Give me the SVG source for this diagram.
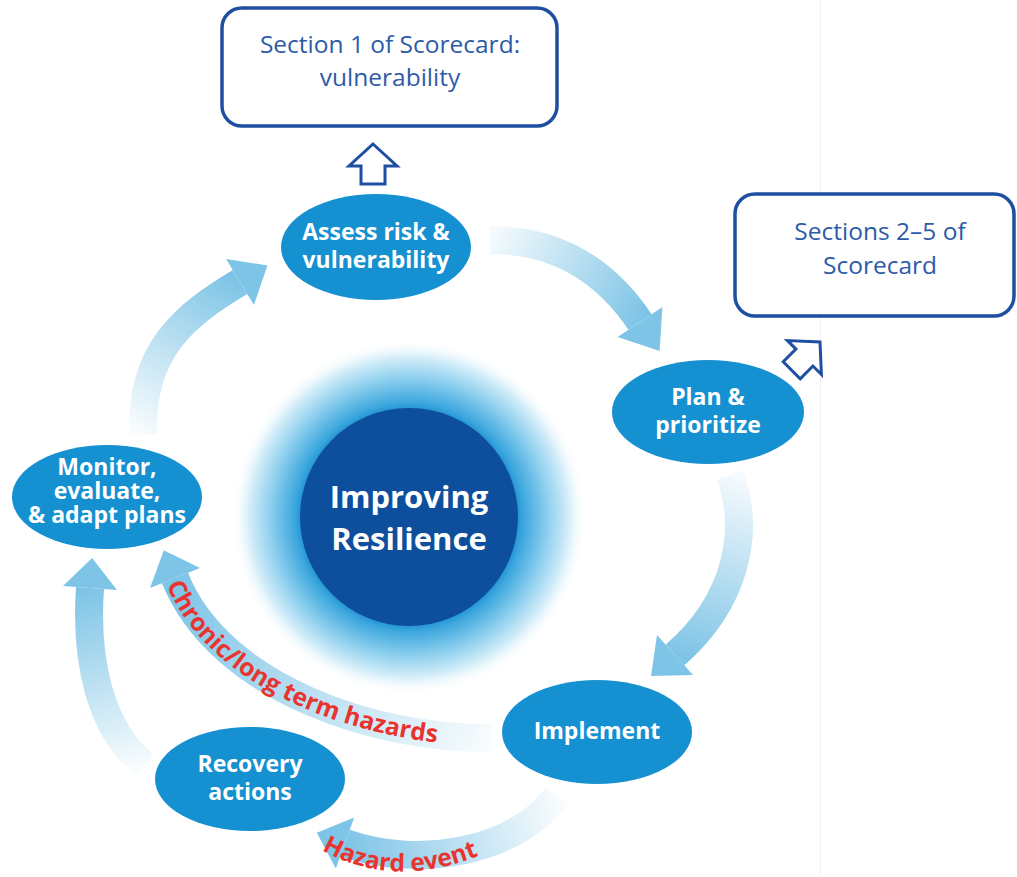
<svg xmlns="http://www.w3.org/2000/svg" width="1017" height="877" viewBox="0 0 1017 877">
<style>
.node{fill:#1590d0}
.nt{font-family:"Open Sans","Liberation Sans",sans-serif;font-weight:700;font-size:23px;fill:#ffffff;text-anchor:middle}
.ct{font-family:"Open Sans","Liberation Sans",sans-serif;font-weight:700;font-size:31px;fill:#ffffff;text-anchor:middle}
.box{fill:#ffffff;stroke:#1f4fa0;stroke-width:3.5}
.bt{font-family:"Open Sans","Liberation Sans",sans-serif;font-size:24.5px;fill:#2d5ba8;text-anchor:middle}
.body{fill:none;stroke-width:28}
.head{fill:#7ec4e6}
.open{fill:#ffffff;stroke:#1f4fa0;stroke-width:3}
.hz{font-family:"Open Sans","Liberation Sans",sans-serif;font-weight:700;font-size:24.5px;fill:#e8332f}
</style>
<defs>
<radialGradient id="halo" cx="409" cy="517" r="178" gradientUnits="userSpaceOnUse">
<stop offset="0.6" stop-color="#1f8fd0"/>
<stop offset="0.64" stop-color="#3aa6dd"/>
<stop offset="0.78" stop-color="#8dcfee"/>
<stop offset="0.9" stop-color="#d5eef9"/>
<stop offset="1" stop-color="#ffffff" stop-opacity="0"/>
</radialGradient>
<linearGradient id="g1" gradientUnits="userSpaceOnUse" x1="490" y1="240" x2="640" y2="322"><stop offset="0" stop-color="#7ec4e6" stop-opacity="0.08"/><stop offset="1" stop-color="#7ec4e6"/></linearGradient>
<linearGradient id="g2" gradientUnits="userSpaceOnUse" x1="730" y1="475" x2="675" y2="655"><stop offset="0" stop-color="#7ec4e6" stop-opacity="0.08"/><stop offset="1" stop-color="#7ec4e6"/></linearGradient>
<linearGradient id="g3" gradientUnits="userSpaceOnUse" x1="492" y1="738" x2="175" y2="578"><stop offset="0" stop-color="#7ec4e6" stop-opacity="0.05"/><stop offset="1" stop-color="#7ec4e6"/></linearGradient>
<linearGradient id="g4" gradientUnits="userSpaceOnUse" x1="557" y1="795" x2="345" y2="843"><stop offset="0" stop-color="#7ec4e6" stop-opacity="0.05"/><stop offset="1" stop-color="#7ec4e6"/></linearGradient>
<linearGradient id="g5" gradientUnits="userSpaceOnUse" x1="145" y1="765" x2="90" y2="588"><stop offset="0" stop-color="#7ec4e6" stop-opacity="0.05"/><stop offset="1" stop-color="#7ec4e6"/></linearGradient>
<linearGradient id="g6" gradientUnits="userSpaceOnUse" x1="143" y1="435" x2="240" y2="282"><stop offset="0" stop-color="#7ec4e6" stop-opacity="0.05"/><stop offset="1" stop-color="#7ec4e6"/></linearGradient>
<path id="openArrow" d="M0 0 L24 22 L12 22 L12 40 L-12 40 L-12 22 L-24 22 Z"/>
<path id="tp3" d="M166 583 C211 697 378 748 500 746"/>
<path id="tp4" d="M318 848 Q400 896 500 846"/>
</defs>

<line x1="820.5" y1="0" x2="820.5" y2="877" stroke="#f3f3f3" stroke-width="1"/>

<g id="box-section1">
<rect class="box" x="222" y="8" width="335" height="118" rx="20"/>
<text class="bt" x="390" y="53"><tspan x="390" y="53">Section 1 of Scorecard:</tspan><tspan x="390" y="86">vulnerability</tspan></text>
</g>

<g id="box-sections2-5">
<rect class="box" x="735" y="194" width="279" height="122" rx="20"/>
<text class="bt" x="880" y="240"><tspan x="880" y="240">Sections 2–5 of</tspan><tspan x="880" y="274">Scorecard</tspan></text>
</g>

<g id="node-center">
<circle cx="409" cy="517" r="178" fill="url(#halo)"/>
<circle cx="409" cy="517" r="109" fill="#0d4f9c"/>
<text class="ct" x="409" y="508"><tspan x="409" y="508">Improving</tspan><tspan x="409" y="550">Resilience</tspan></text>
</g>

<g id="connectors">
<path class="body" stroke="url(#g1)" d="M490 240 Q585 240 640 322"/>
<polygon class="head" points="659.6,351 662.4,306.9 617.6,337.1"/>
<path class="body" stroke="url(#g2)" d="M730 475 C750 530 738 600 675 655"/>
<polygon class="head" points="651,676 693,675 657,635"/>
<path class="body" stroke="url(#g3)" d="M492 738 C380 740 220 690 175 578"/>
<polygon class="head" points="163.8,550.2 200,568 150,588"/>
<path class="body" stroke="url(#g4)" d="M557 795 C520 850 420 870 345 843"/>
<polygon class="head" points="316.8,832.8 354.2,817.6 335.8,868.4"/>
<path class="body" stroke="url(#g5)" d="M145 765 C100 730 85 660 90 588"/>
<polygon class="head" points="92.1,558 117,589.9 63,586.1"/>
<path class="body" stroke="url(#g6)" d="M143 435 C140 350 185 315 240 282"/>
<polygon class="head" points="267.4,265.5 253.9,305.1 226.1,258.9"/>
<use href="#openArrow" class="open" transform="translate(373,144)"/>
<use href="#openArrow" class="open" transform="translate(820,342) rotate(45)"/>
</g>

<g id="labels">
<text class="hz"><textPath href="#tp3" startOffset="2">Chronic/long term hazards</textPath></text>
<text class="hz"><textPath href="#tp4" startOffset="4">Hazard event</textPath></text>
</g>

<g id="node-assess">
<ellipse class="node" cx="376" cy="247" rx="95" ry="53"/>
<text class="nt" x="376" y="240"><tspan x="376" y="240">Assess risk &amp;</tspan><tspan x="376" y="268">vulnerability</tspan></text>
</g>
<g id="node-plan">
<ellipse class="node" cx="708" cy="412" rx="96" ry="52"/>
<text class="nt" x="708" y="405"><tspan x="708" y="405">Plan &amp;</tspan><tspan x="708" y="433">prioritize</tspan></text>
</g>
<g id="node-implement">
<ellipse class="node" cx="597" cy="732" rx="95" ry="52"/>
<text class="nt" x="597" y="739">Implement</text>
</g>
<g id="node-recovery">
<ellipse class="node" cx="250" cy="779" rx="95" ry="52"/>
<text class="nt" x="250" y="772"><tspan x="250" y="772">Recovery</tspan><tspan x="250" y="800">actions</tspan></text>
</g>
<g id="node-monitor">
<ellipse class="node" cx="107" cy="497" rx="95" ry="52"/>
<text class="nt" x="107" y="475"><tspan x="107" y="475">Monitor,</tspan><tspan x="107" y="499">evaluate,</tspan><tspan x="107" y="523">&amp; adapt plans</tspan></text>
</g>
</svg>
